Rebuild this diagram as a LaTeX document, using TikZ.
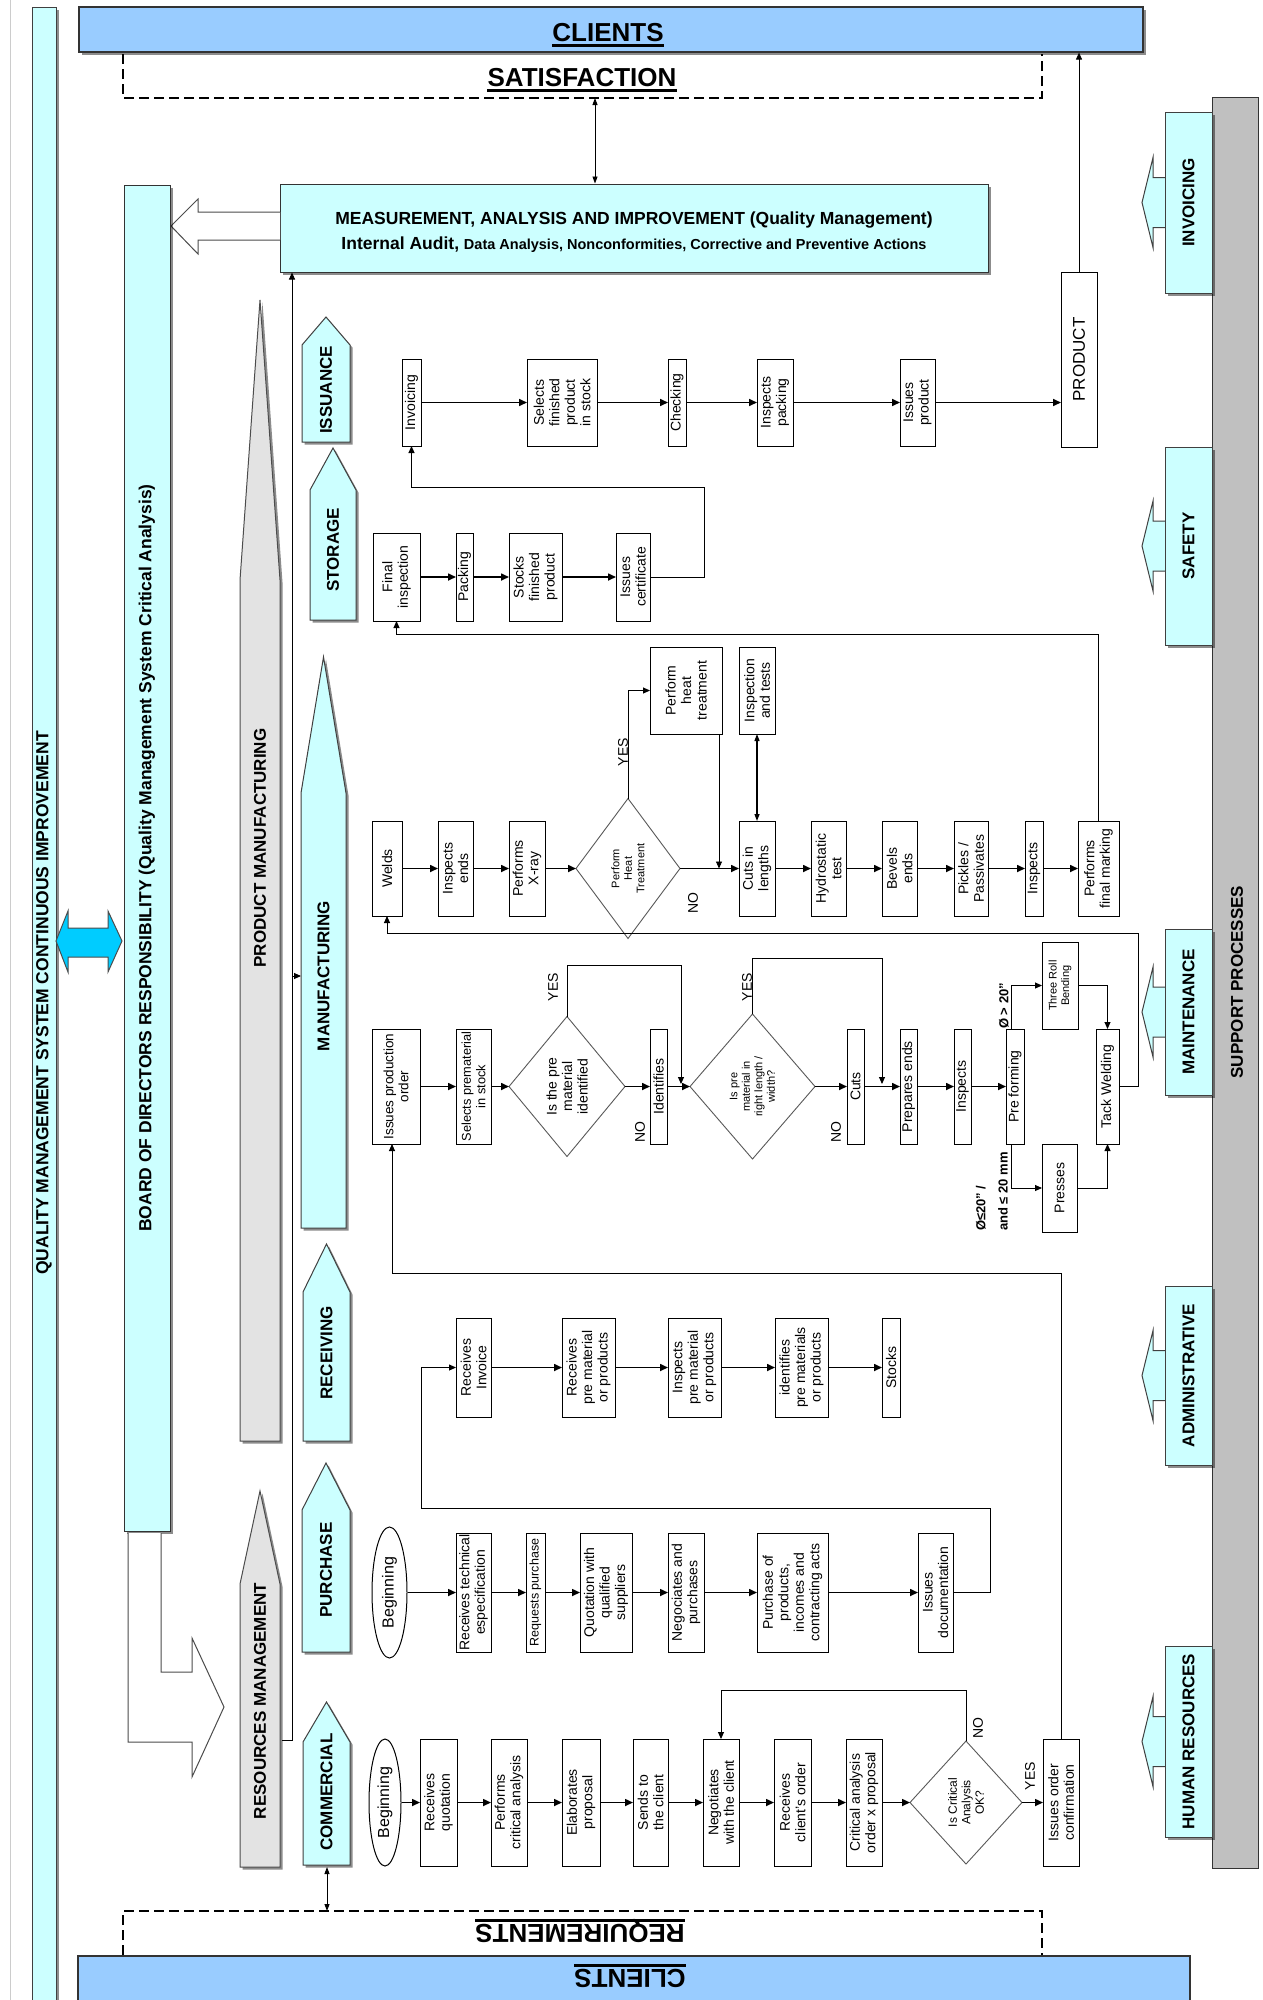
\documentclass[tikz,border=0pt]{standalone}
\usepackage{fontspec}
\setmainfont{Liberation Sans}
\usetikzlibrary{arrows.meta,fit,calc,shapes.geometric,shadows}
\definecolor{lcyan}{HTML}{CCFFFF}
\definecolor{cblue}{HTML}{99CCFF}
\definecolor{sgray}{HTML}{C0C0C0}
\definecolor{pgray}{HTML}{E3E3E3}
\definecolor{dblue}{HTML}{00CCFF}
\newcommand{\fs}[2]{\fontsize{#1}{#2}\selectfont}
\newcommand{\pbx}[7][]{\node[pbox, fit={(#3,#4) (#5,#6)}] (#2) {};\node[ptext,#1] at (#2.center) {#7};}
\newcommand{\stg}[8]{\draw[stage, shd] (#2,#6) -- (#2,#5) -- ({(#2+#3)/2},#4) -- (#3,#5) -- (#3,#6) -- cycle;\node[stagetxt] (#1) at ({(#2+#3)/2},#7) {#8};}
\newcommand{\suppbox}[4]{\draw[stage] (1166,{(#2+#3)/2-25}) -- (1153,{(#2+#3)/2-25}) -- (1153,{(#2+#3)/2-45}) -- (1142,{(#2+#3)/2}) -- (1153,{(#2+#3)/2+45}) -- (1153,{(#2+#3)/2+25}) -- (1166,{(#2+#3)/2+25});\node[stage, shd, inner sep=0pt, fit={(1165,#2) (1212,#3)}] (#1) {};\node[stagetxt] at (#1.center) {#4};}
\begin{document}
\begin{tikzpicture}[x=1pt,y=-1pt,
  shd/.style={drop shadow={shadow xshift=2.5pt, shadow yshift=-2.5pt, opacity=0.45, fill=black}},
  pbox/.style={draw=black, line width=1pt, fill=white, inner sep=0pt, outer sep=0pt},
  ptext/.style={rotate=90, align=center, inner sep=0pt, font=\fs{14}{15.5}},
  dmd/.style={diamond, draw=black!65, line width=0.9pt, fill=white, inner sep=0pt, outer sep=0pt},
  dtext/.style={rotate=90, align=center, inner sep=0pt, font=\fs{11}{12.5}},
  arr/.style={-{Triangle[length=8pt,width=7pt]}, line width=1.6pt},
  tarr/.style={-{Triangle[length=7pt,width=6pt]}, line width=0.9pt},
  dbl/.style={{Triangle[length=7pt,width=5pt]}-{Triangle[length=7pt,width=5pt]}, line width=0.9pt},
  stage/.style={draw=black!75, line width=1pt, fill=lcyan},
  stagetxt/.style={rotate=90, font=\fs{17}{20}\bfseries, inner sep=0pt},
  bigtxt/.style={rotate=90, font=\fs{17.5}{20}\bfseries, inner sep=0pt},
  lbl/.style={rotate=90, font=\fs{14}{16}, inner sep=0pt},
  dbox/.style={line width=1.6pt, dash pattern=on 10pt off 5pt},
  ttl/.style={font=\fs{26}{30}\bfseries, inner xsep=0pt, inner ysep=0pt}
]
\useasboundingbox (0,0) rectangle (1263,2000);
\fill[white] (0,0) rectangle (1263,2000);

% ---------- left frame ----------
\draw[black!20, line width=1pt] (10,0) -- (10,2000);
\node[fit={(32,7) (56,2010)}, inner sep=0pt, draw=black!75, line width=1pt, fill=lcyan, shd] (qms) {};
\node[bigtxt] at (44,1003) {QUALITY MANAGEMENT SYSTEM CONTINUOUS IMPROVEMENT};

% ---------- top clients / satisfaction ----------
\node[fit={(79,7) (1143,52)}, inner sep=0pt, draw=black!80, line width=1.2pt, fill=cblue, shd] (clientsT) {};
\node[ttl, anchor=base] (clT) at (608,41.5) {CLIENTS};
\draw[line width=2.5pt] ([yshift=-4pt]clT.base west) -- ([yshift=-4pt]clT.base east);
\draw[dbox] (123,54) -- (123,98) -- (1042,98) -- (1042,54);
\node[ttl, anchor=base] (satT) at (582,86.3) {SATISFACTION};
\draw[line width=2.5pt] ([yshift=-4pt]satT.base west) -- ([yshift=-4pt]satT.base east);
\coordinate (satB) at (595,98);

% ---------- measurement ----------
\node[fit={(280,184) (988,272)}, inner sep=0pt, draw=black!80, line width=1pt, fill=lcyan, shd] (mai) {};
\node[anchor=base, inner sep=0pt, font=\fs{17.5}{20}\bfseries] at (634,224.3) {MEASUREMENT, ANALYSIS AND IMPROVEMENT (Quality Management)};
\node[anchor=base, inner sep=0pt] at (634,249.3) {{\fs{17.5}{20}\bfseries Internal Audit, }{\fs{14.5}{18}\bfseries Data Analysis, Nonconformities, Corrective and Preventive Actions}};
\draw[dbl] (satB) -- (satB |- mai.north);
\draw[line width=1pt, draw=black!70, fill=white] (280,212) -- (198,212) -- (198,199) -- (171,226) -- (198,254) -- (198,240) -- (280,240);

% ---------- board ----------
\node[fit={(124,185) (170,1531)}, inner sep=0pt, draw=black!80, line width=1pt, fill=lcyan, shd] (board) {};
\node[bigtxt] at (board.center) {BOARD OF DIRECTORS RESPONSIBILITY (Quality Management System Critical Analysis)};
\draw[fill=dblue, draw=black!70, line width=1pt] (56,941) -- (68,911) -- (68,928) -- (108,928) -- (108,911) -- (122,941) -- (108,972) -- (108,957) -- (68,957) -- (68,972) -- cycle;
\draw[fill=white, draw=black!70, line width=1pt] (128,1533) -- (128,1742) -- (192,1742) -- (192,1777) -- (224,1707) -- (192,1638) -- (192,1672) -- (161,1672) -- (161,1533);

% ---------- product manufacturing / resources ----------
\draw[fill=pgray, draw=black!70, line width=1pt, shd] (240,1441) -- (240,580) -- (260,300) -- (280,580) -- (280,1441) -- cycle;
\node[stagetxt] (pmtxt) at (260,848) {PRODUCT MANUFACTURING};
\draw[fill=pgray, draw=black!70, line width=1pt, shd] (240,1867) -- (240,1584) -- (260,1491) -- (280,1584) -- (280,1867) -- cycle;
\node[stagetxt] (rmtxt) at (260,1701) {RESOURCES MANAGEMENT};
\coordinate (rmE) at (282,1740);
\coordinate (vl) at (292,1740);
\coordinate (vm) at (292,976);
\coordinate (mfgL) at (301,976);
\draw[tarr] (rmE) -- (vl) -- (vl |- mai.south);
\draw[tarr] (vm) -- (mfgL);

% ---------- stages ----------
\stg{issuance}{302}{350}{317}{345}{442}{390}{ISSUANCE}
\stg{storage}{310}{356}{448}{490}{620}{550}{STORAGE}
\stg{manufacturing}{301}{346}{657}{793}{1228}{976}{MANUFACTURING}
\stg{receiving}{303}{350}{1244}{1292}{1441}{1353}{RECEIVING}
\stg{purchase}{302}{350}{1463}{1510}{1652}{1570}{PURCHASE}
\stg{commercial}{303}{350}{1702}{1742}{1865}{1792}{COMMERCIAL}

% ---------- bottom clients / requirements ----------
\node[fit={(78,1956) (1190,2010)}, inner sep=0pt, draw=black!80, line width=1.2pt, fill=cblue] (clientsB) {};
\node[ttl, anchor=base, rotate=180] (clB) at (630,1969.7) {CLIENTS};
\draw[line width=2.5pt] ([yshift=4pt]clB.base west) -- ([yshift=4pt]clB.base east);
\draw[dbox] (123,1955) -- (123,1911) -- (1042,1911) -- (1042,1955);
\node[ttl, anchor=base, rotate=180] (reqT) at (580,1924.7) {REQUIREMENTS};
\draw[line width=2.5pt] ([yshift=4pt]reqT.base west) -- ([yshift=4pt]reqT.base east);
\coordinate (comB) at (327,1867);
\coordinate (reqTop) at (327,1911);
\draw[dbl] (comB) -- (reqTop);

% ---------- support processes ----------
\node[fit={(1212,97) (1258,1868)}, inner sep=0pt, draw=black!80, line width=1pt, fill=sgray] (spbar) {};
\node[stagetxt] at (1237,982) {SUPPORT PROCESSES};
\suppbox{sinv}{112}{293}{INVOICING}
\suppbox{ssaf}{447}{645}{SAFETY}
\suppbox{smai}{929}{1095}{MAINTENANCE}
\suppbox{sadm}{1286}{1465}{ADMINISTRATIVE}
\suppbox{shum}{1646}{1837}{HUMAN RESOURCES}

% ---------- ISSUANCE row ----------
\pbx{inv}{402}{359}{421}{446}{Invoicing}
\pbx{sel}{527}{359}{597}{446}{Selects\\finished\\product\\in stock}
\pbx{chk}{668}{359}{686}{446}{Checking}
\pbx{insp}{757}{359}{793}{446}{Inspects\\packing}
\pbx{iss}{900}{359}{935}{446}{Issues\\product}
\pbx[font=\fs{17}{20}]{prod}{1061}{272}{1097}{447}{PRODUCT}
\draw[arr] (inv) -- (sel);
\draw[arr] (sel) -- (chk);
\draw[arr] (chk) -- (insp);
\draw[arr] (insp) -- (iss);
\draw[arr] (iss.east) -- (iss.east -| prod.west);
\draw[tarr] (prod.north) -- (prod.north |- clientsT.south);

% ---------- STORAGE row ----------
\pbx{finsp}{373}{533}{420}{621}{Final\\inspection}
\pbx{pack}{456}{533}{473}{621}{Packing}
\pbx{stock}{509}{533}{562}{621}{Stocks\\finished\\product}
\pbx{cert}{616}{533}{650}{621}{Issues\\certificate}
\draw[arr] (finsp) -- (pack);
\draw[arr] (pack) -- (stock);
\draw[arr] (stock) -- (cert);
\draw[tarr] (cert.east) -| ++(54,-90) -| (inv.south);

% ---------- MANUFACTURING upper row ----------
\pbx{welds}{372}{821}{402}{916}{Welds}
\pbx{ie}{438}{821}{473}{916}{Inspects\\ends}
\pbx{xray}{509}{821}{545}{916}{Performs\\X-ray}
\node[dmd, minimum width=104pt, minimum height=140pt] (dh) at (628,868.5) {};
\node[dtext] at (dh.center) {Perform\\Heat\\Treatment};
\pbx{pht}{650}{647}{722}{734}{Perform\\heat\\treatment}
\pbx{iat}{739}{647}{775}{734}{Inspection\\and tests}
\pbx{cut}{739}{821}{775}{916}{Cuts in\\lengths}
\pbx{hyd}{811}{821}{846}{916}{Hydrostatic\\test}
\pbx{bev}{882}{821}{917}{916}{Bevels\\ends}
\pbx{pick}{954}{821}{988}{916}{Pickles /\\Passivates}
\pbx{insp2}{1025}{821}{1043}{916}{Inspects}
\pbx{fm}{1078}{821}{1119}{916}{Performs\\final marking}
\draw[arr] (welds) -- (ie);
\draw[arr] (ie) -- (xray);
\draw[arr] (xray) -- (dh);
\draw[arr] (dh) -- (cut);
\draw[tarr] (dh.north) |- (pht.west);
\draw[tarr] ([xshift=-3pt]pht.south east) -- ([xshift=-3pt]pht.south east |- cut.west);
\draw[dbl, line width=1.2pt] (iat.south) -- (cut.north);
\draw[arr] (cut) -- (hyd);
\draw[arr] (hyd) -- (bev);
\draw[arr] (bev) -- (pick);
\draw[arr] (pick) -- (insp2);
\draw[arr] (insp2) -- (fm);
\draw[tarr] (fm.north) -- ++(0,-187) -| (finsp.south);
\node[lbl] at (623,752) {YES};
\node[lbl] at (693,903) {NO};

% ---------- MANUFACTURING lower row ----------
\pbx[font=\fs{13.5}{15}]{ipo}{372}{1029}{420}{1144}{Issues production\\order}
\pbx[font=\fs{12.8}{14.5}]{spm}{456}{1029}{491}{1144}{Selects prematerial\\in stock}
\node[dmd, minimum width=116pt, minimum height=140pt] (d1) at (567,1086.5) {};
\node[dtext, font=\fs{14}{15.5}] at (d1.center) {Is the pre\\material\\identified};
\pbx{ident}{650}{1029}{667}{1144}{Identifies}
\node[dmd, minimum width=125pt, minimum height=145pt] (d2) at (752.5,1086.5) {};
\node[dtext] at (d2.center) {Is pre\\material in\\right length /\\width?};
\pbx{cuts}{847}{1029}{864}{1144}{Cuts}
\pbx{pe}{900}{1029}{917}{1144}{Prepares ends}
\pbx{insp3}{954}{1029}{971}{1144}{Inspects}
\pbx{pf}{1006}{1029}{1024}{1144}{Pre forming}
\pbx[font=\fs{11}{12.5}]{trb}{1042}{942}{1078}{1029}{Three Roll\\Bending}
\pbx{press}{1042}{1144}{1077}{1232}{Presses}
\pbx{tw}{1096}{1029}{1119}{1144}{Tack Welding}
\draw[arr] (ipo) -- (spm);
\draw[arr] (spm) -- (d1);
\draw[arr] (d1) -- (ident);
\draw[arr] (ident) -- (d2);
\draw[arr] (d2) -- (cuts);
\draw[arr] (cuts) -- (pe);
\draw[arr] (pe) -- (insp3);
\draw[arr] (insp3) -- (pf);
\draw[tarr] (d1.north) |- (681,965) -- (681,1084);
\draw[tarr] (d2.north) |- (882,958) -- (882,1084);
\draw[tarr] ([xshift=-4pt]pf.north) |- (trb.west);
\draw[tarr] ([xshift=-4pt]pf.south) |- (press.west);
\draw[tarr] (trb.east) -| (tw.north);
\draw[tarr] (press.east) -| (tw.south);
\draw[tarr] (tw.east) -- (1138,1086.5) -- (1138,933) -| (welds.south);
\node[lbl] at (553,987) {YES};
\node[lbl] at (640,1132) {NO};
\node[lbl] at (747,987) {YES};
\node[lbl] at (836,1132) {NO};
\node[lbl, font=\fs{13}{15}\bfseries, anchor=west] at (1004,1029) {Ø > 20"};
\node[lbl, font=\fs{13}{15}\bfseries, anchor=west] at (981,1231) {Ø≤20" /};
\node[lbl, font=\fs{13}{15}\bfseries, anchor=west] at (1003,1231) {and ≤ 20 mm};

% ---------- RECEIVING row ----------
\pbx{ri}{456}{1318}{491}{1417}{Receives\\Invoice}
\pbx{rpm}{562}{1318}{615}{1417}{Receives\\pre material\\or products}
\pbx{ipm}{668}{1318}{721}{1417}{Inspects\\pre material\\or products}
\pbx{idp}{775}{1318}{828}{1417}{identifies\\pre materials\\or products}
\pbx{stk}{882}{1318}{900}{1417}{Stocks}
\draw[arr] (ri) -- (rpm);
\draw[arr] (rpm) -- (ipm);
\draw[arr] (ipm) -- (idp);
\draw[arr] (idp) -- (stk);

% ---------- PURCHASE row ----------
\node[ellipse, draw=black, line width=1pt, fill=white, minimum width=35pt, minimum height=131pt, inner sep=0pt] (pbeg) at (389.5,1592.5) {};
\node[ptext, font=\fs{16}{18}] at (pbeg.center) {Beginning};
\pbx{rte}{456}{1533}{491}{1652}{Receives technical\\especification}
\pbx[font=\fs{12.5}{14}]{rp}{526}{1533}{545}{1652}{Requests purchase}
\pbx{qws}{580}{1533}{632}{1652}{Quotation with\\qualified\\suppliers}
\pbx{nap}{668}{1533}{704}{1652}{Negociates and\\purchases}
\pbx{pop}{757}{1533}{828}{1652}{Purchase of\\products,\\incomes and\\contracting acts}
\pbx{idoc}{918}{1533}{953}{1652}{Issues\\documentation}
\draw[arr] (pbeg) -- (rte);
\draw[arr] (rte) -- (rp);
\draw[arr] (rp) -- (qws);
\draw[arr] (qws) -- (nap);
\draw[arr] (nap) -- (pop);
\draw[arr] (pop) -- (idoc);
\draw[tarr] (idoc.east) -- (990,1592.5) |- (421,1508) |- (ri.west);

% ---------- COMMERCIAL row ----------
\node[ellipse, draw=black, line width=1pt, fill=white, minimum width=32pt, minimum height=127pt, inner sep=0pt] (cbeg) at (385,1802.5) {};
\node[ptext, font=\fs{16}{18}] at (cbeg.center) {Beginning};
\pbx{rq}{420}{1739}{457}{1866}{Receives\\quotation}
\pbx{pca}{491}{1739}{527}{1866}{Performs\\critical analysis}
\pbx{ep}{562}{1739}{600}{1866}{Elaborates\\proposal}
\pbx{stc}{633}{1739}{668}{1866}{Sends to\\the client}
\pbx{nwc}{703}{1739}{739}{1866}{Negotiates\\with the client}
\pbx{rco}{774}{1739}{811}{1866}{Receives\\client's order}
\pbx{cao}{846}{1739}{882}{1866}{Critical analysis\\order x proposal}
\node[dmd, minimum width=112pt, minimum height=123pt] (cd) at (966,1802.5) {};
\node[dtext, font=\fs{12}{13.5}] at (cd.center) {Is Critical\\Analysis\\OK?};
\pbx{ioc}{1043}{1739}{1079}{1866}{Issues order\\confirmation}
\draw[arr] (cbeg) -- (rq);
\draw[arr] (rq) -- (pca);
\draw[arr] (pca) -- (ep);
\draw[arr] (ep) -- (stc);
\draw[arr] (stc) -- (nwc);
\draw[arr] (nwc) -- (rco);
\draw[arr] (rco) -- (cao);
\draw[arr] (cao) -- (cd);
\draw[arr] (cd) -- (ioc);
\draw[tarr] (cd.north) |- (721,1690) -- (nwc.north);
\draw[tarr] (ioc.north) |- (392,1273) -- (ipo.south -| 392,0);
\node[lbl] at (1030,1776) {YES};
\node[lbl] at (978,1728) {NO};
\end{tikzpicture}
\end{document}
